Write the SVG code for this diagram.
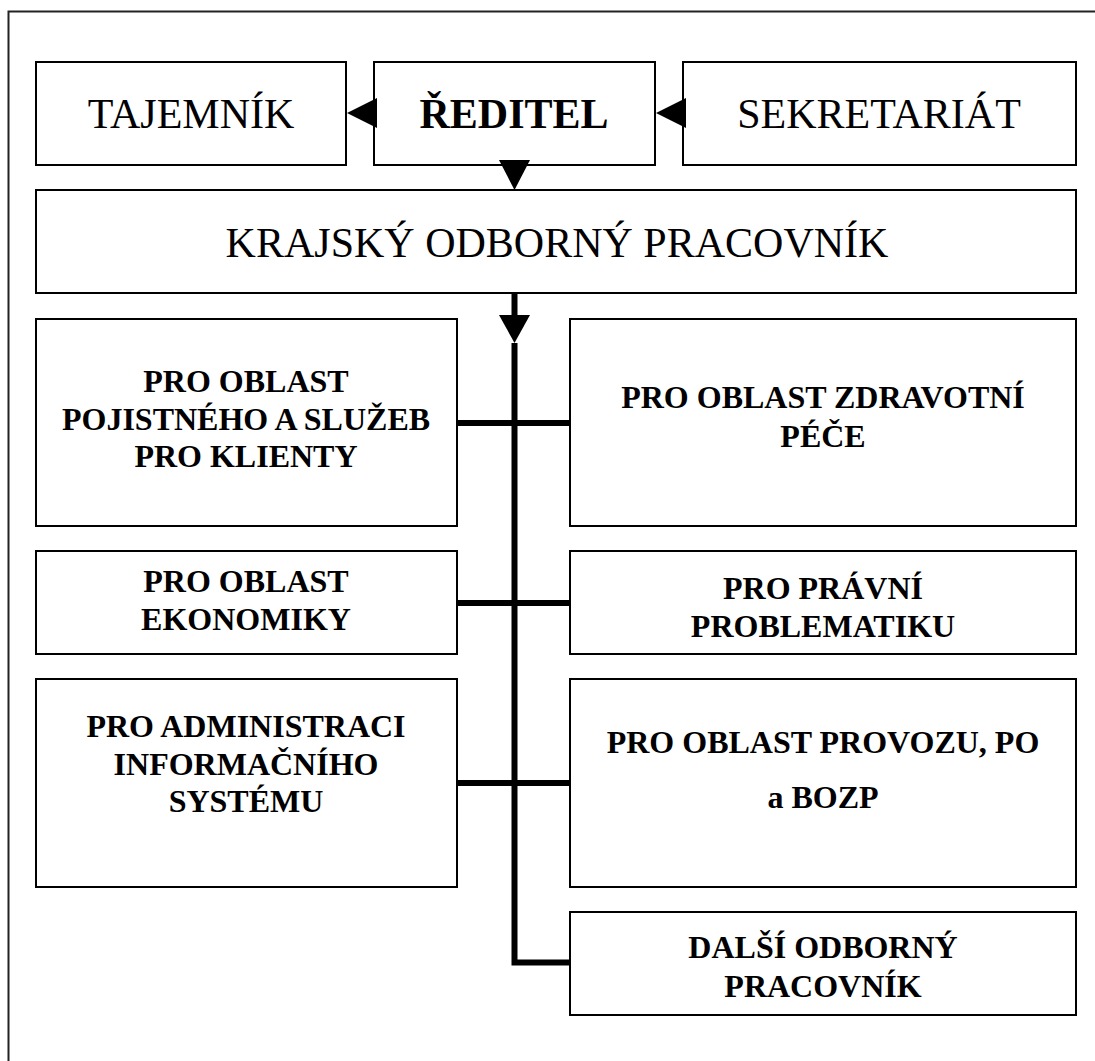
<svg xmlns="http://www.w3.org/2000/svg" width="1095" height="1061" viewBox="0 0 1095 1061">
<style>
.box{fill:#fff;stroke:#000;stroke-width:2}
.t{font-family:"Liberation Serif","Times New Roman",serif;text-anchor:middle;fill:#000}
.big{font-size:42px}
.bigb{font-size:42px;font-weight:bold}
.b{font-size:32px;font-weight:bold}
.conn{stroke:#000;stroke-width:6;fill:none}
.arr{fill:#000}
</style>
<rect width="1095" height="1061" fill="#fff"/>
<path d="M8.5,1061 V11.5 H1095" fill="none" stroke="#222" stroke-width="2"/>

<g id="tajemnik"><rect class="box" x="36" y="62" width="310" height="103"/><text class="t big" x="191" y="128">TAJEMNÍK</text></g>
<g id="reditel"><rect class="box" x="374" y="62" width="281" height="103"/><text class="t bigb" x="514" y="128">ŘEDITEL</text></g>
<g id="sekretariat"><rect class="box" x="683" y="62" width="393" height="103"/><text class="t big" x="879" y="128">SEKRETARIÁT</text></g>
<g id="krajsky"><rect class="box" x="36" y="190" width="1040" height="103"/><text class="t big" x="557" y="257">KRAJSKÝ ODBORNÝ PRACOVNÍK</text></g>

<g id="pojistne"><rect class="box" x="36" y="319" width="421" height="207"/><text class="t b" x="246" y="392">PRO OBLAST</text><text class="t b" x="246" y="430">POJISTNÉHO A SLUŽEB</text><text class="t b" x="246" y="467">PRO KLIENTY</text></g>
<g id="zdravotni"><rect class="box" x="570" y="319" width="506" height="207"/><text class="t b" x="823" y="408">PRO OBLAST ZDRAVOTNÍ</text><text class="t b" x="823" y="447">PÉČE</text></g>
<g id="ekonomika"><rect class="box" x="36" y="551" width="421" height="103"/><text class="t b" x="246" y="592">PRO OBLAST</text><text class="t b" x="246" y="630">EKONOMIKY</text></g>
<g id="pravni"><rect class="box" x="570" y="551" width="506" height="103"/><text class="t b" x="823" y="599">PRO PRÁVNÍ</text><text class="t b" x="823" y="637">PROBLEMATIKU</text></g>
<g id="administrace"><rect class="box" x="36" y="679" width="421" height="208"/><text class="t b" x="246" y="737">PRO ADMINISTRACI</text><text class="t b" x="246" y="775">INFORMAČNÍHO</text><text class="t b" x="246" y="812">SYSTÉMU</text></g>
<g id="provoz"><rect class="box" x="570" y="679" width="506" height="208"/><text class="t b" x="823" y="753">PRO OBLAST PROVOZU, PO</text><text class="t b" x="823" y="808">a BOZP</text></g>
<g id="dalsi"><rect class="box" x="570" y="912" width="506" height="103"/><text class="t b" x="823" y="958">DALŠÍ ODBORNÝ</text><text class="t b" x="823" y="997">PRACOVNÍK</text></g>

<g id="connectors">
<polygon class="arr" points="377,98 377,128 347,113"/>
<polygon class="arr" points="686,98 686,128 656,113"/>
<polygon class="arr" points="499,160 530,160 514.5,190"/>
<line class="conn" x1="514.5" y1="293" x2="514.5" y2="316"/>
<polygon class="arr" points="499,315 530,315 514.5,343"/>
<path class="conn" d="M514.5,343 V962.5 H570"/>
<line class="conn" x1="457" y1="423" x2="570" y2="423"/>
<line class="conn" x1="457" y1="603" x2="570" y2="603"/>
<line class="conn" x1="457" y1="783" x2="570" y2="783"/>
</g>
</svg>
